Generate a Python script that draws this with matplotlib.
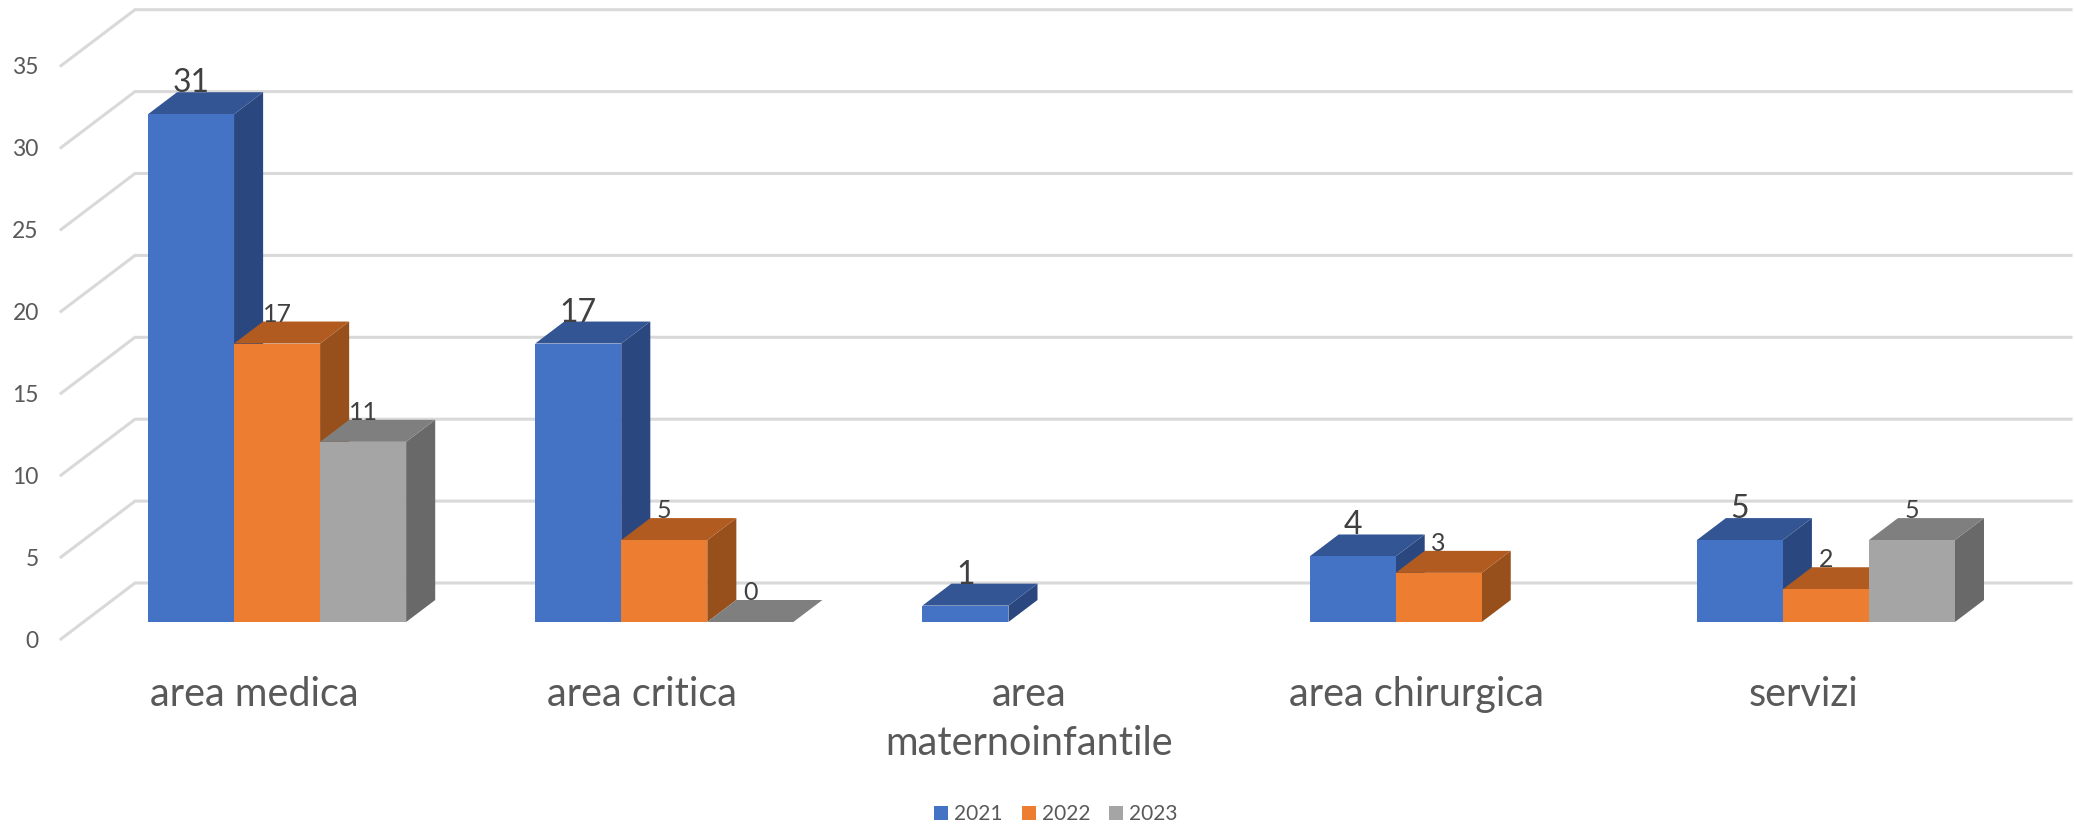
import matplotlib
matplotlib.use('Agg')
import matplotlib.pyplot as plt
from matplotlib.patches import Patch

categories = ['area medica', 'area critica', 'area\nmaternoinfantile', 'area chirurgica', 'servizi']
years = ['2021', '2022', '2023']
values_2021 = [31, 17, 1, 4, 5]
values_2022 = [17, 5, None, 3, 2]
values_2023 = [11, 0, None, None, 5]
y_ticks = [0, 5, 10, 15, 20, 25, 30, 35]

front_colors = ['#4472C4', '#ED7D31', '#A5A5A5']
top_colors = ['#335593', '#B25B20', '#7F7F7F']
side_colors = ['#2A4780', '#97501B', '#696969']
label_sizes = [23, 18, 18]

GRID = '#D9D9D9'
TEXT = '#595959'
LABEL = '#404040'

W = 2074
H = 826
PX_X = 387.2    # pixels per category
PX_Y = 16.38    # pixels per value unit
DEPTH_X = 74 / PX_X
DEPTH_Y = 56 / PX_Y
BAR_W = 1 / 4.5
D0 = 17 / 56
D1 = 39 / 56


def draw_walls(ax):
	for t in y_ticks:
		xs = [0, DEPTH_X, len(categories) + DEPTH_X]
		ys = [t, t + DEPTH_Y, t + DEPTH_Y]
		ax.plot(xs, ys, color=GRID, lw=2.2, clip_on=False, zorder=1, solid_joinstyle='miter')


def draw_bar(ax, left, value, k):
	x0 = left + D0 * DEPTH_X
	x1 = x0 + BAR_W
	dx = (D1 - D0) * DEPTH_X
	dy = (D1 - D0) * DEPTH_Y
	y0 = D0 * DEPTH_Y
	y1 = y0 + value
	if value > 0:
		ax.fill([x1, x1 + dx, x1 + dx, x1], [y0, y0 + dy, y1 + dy, y1],
			color=side_colors[k], lw=0, clip_on=False, zorder=2)
	ax.fill([x0, x1, x1 + dx, x0 + dx], [y1, y1, y1 + dy, y1 + dy],
		color=top_colors[k], lw=0, clip_on=False, zorder=2)
	if value > 0:
		ax.fill([x0, x1, x1, x0], [y0, y0, y1, y1],
			color=front_colors[k], lw=0, clip_on=False, zorder=2)
	return (x0 + x1) / 2, y1 + dy


def main():
	fig = plt.figure(figsize=(W / 100, H / 100), dpi=100)
	plt.rcParams['font.family'] = ['Lato', 'DejaVu Sans']
	ax = fig.add_axes([61 / W, (H - 639) / H, 5 * PX_X / W, 35 * PX_Y / H])
	ax.set_xlim(0, 5)
	ax.set_ylim(0, 35)
	ax.patch.set_visible(False)
	for s in ax.spines.values():
		s.set_visible(False)

	ax.set_yticks(y_ticks)
	ax.set_xticks([i + 0.5 for i in range(len(categories))])
	ax.set_xticklabels(categories, linespacing=1.39)
	ax.tick_params(axis='y', length=0, pad=16, labelsize=16.5, labelcolor=TEXT)
	ax.tick_params(axis='x', length=0, pad=26.5, labelsize=28.5, labelcolor=TEXT)

	draw_walls(ax)

	series = [values_2021, values_2022, values_2023]
	margin = (1 - 3 * BAR_W) / 2
	labels = []
	for i in range(len(categories)):
		for k in range(3):
			v = series[k][i]
			if v is None:
				continue
			left = i + margin + k * BAR_W
			cx, top = draw_bar(ax, left, v, k)
			labels.append((cx, top, v, k))
	for cx, top, v, k in labels:
		ax.text(cx, top, str(v), ha='center', va='baseline', fontsize=label_sizes[k],
			color=LABEL, zorder=3, clip_on=False)

	handles = [Patch(color=c, lw=0) for c in front_colors]
	fig.legend(handles, years, loc='center', bbox_to_anchor=(1056 / W, (H - 814) / H), ncol=3,
		frameon=False, fontsize=15, labelcolor=TEXT, handlelength=0.67, handleheight=0.67,
		handletextpad=0.3, columnspacing=0.9, borderpad=0, borderaxespad=0)

	fig.savefig('out.png', dpi=100, facecolor='white')


if __name__ == "__main__":
	main()
